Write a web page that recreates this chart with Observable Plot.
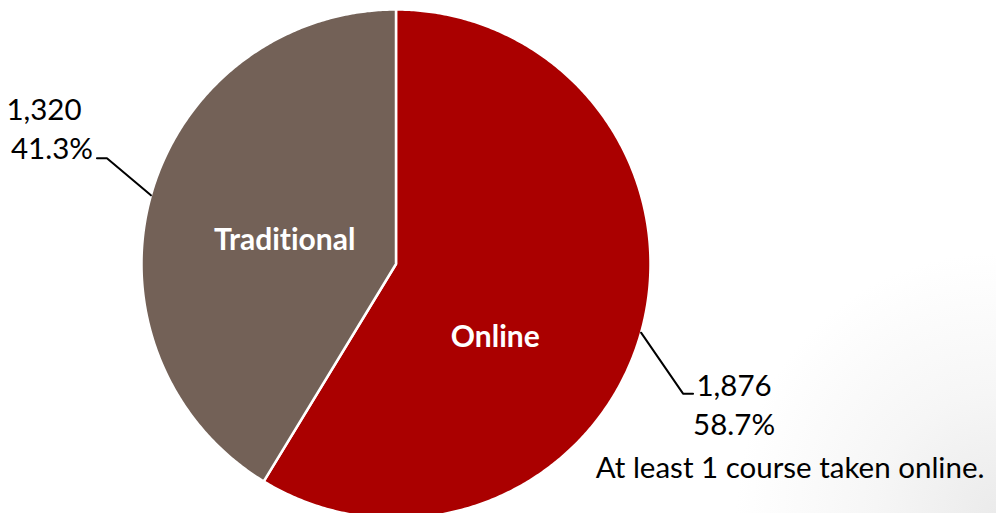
<!DOCTYPE html>
<html>
<head>
<meta charset="utf-8">
<script src="https://cdn.jsdelivr.net/npm/d3@7"></script>
<script src="https://cdn.jsdelivr.net/npm/@observablehq/plot@0.6"></script>
<style>
  html, body { margin: 0; padding: 0; }
  body {
    width: 996px; height: 513px; overflow: hidden;
    background: radial-gradient(circle at 100% 100%, #ebebeb 0px, #f6f6f6 120px, #ffffff 260px);
    font-family: Lato, "Open Sans", sans-serif;
  }
  #chart svg { display: block; }
  #chart text { font-variant-ligatures: none; font-feature-settings: "liga" 0; }
</style>
</head>
<body>
<div id="chart"></div>
<script>
// ---- data ----
const categories = ["Online", "Traditional"];
const counts = [1876, 1320];
const colors = ["#aa0000", "#736157"];
const note = "At least 1 course taken online.";

// ---- layout (pixels) ----
const W = 996, H = 513;
const cx = 395.5, cy = 263.5, R = 254.5;

const total = d3.sum(counts);
const pie = d3.pie().sort(null).startAngle(0).endAngle(2 * Math.PI)(counts);

// polar helper in data units (radius 1 = pie radius); angle clockwise from 12 o'clock
const polar = (a, r) => ({x: r * Math.sin(a), y: r * Math.cos(a)});
const pxToData = (dx, dy) => ({x: dx / R, y: -dy / R});

const slices = pie.map((p, i) => ({
  label: categories[i],
  value: counts[i],
  pct: counts[i] / total,
  a0: p.startAngle, a1: p.endAngle,
  mid: (p.startAngle + p.endAngle) / 2
}));

// polygon points for each slice
const pts = [];
for (const s of slices) {
  pts.push({label: s.label, ...polar(0, 0)});
  const n = Math.max(2, Math.ceil((s.a1 - s.a0) / (Math.PI / 360)));
  for (let k = 0; k <= n; k++) {
    const a = s.a0 + (s.a1 - s.a0) * k / n;
    pts.push({label: s.label, ...polar(a, 1)});
  }
}

// leader lines and label layout: offsets in pixels from the slice's edge point
const leaderLayout = {
  Online:      {elbow: [42, 61],  run: 10,  inner: [-11, 42], lines: [[41, 2], [41, 41]], noteAt: [97, 84]},
  Traditional: {elbow: [-44, -37], run: -10, inner: [-1, 7],   lines: [[-53, -38], [-45, 1]]}
};

const leaders = [];
const outerText = [];
const innerText = [];
const fmt = d3.format(",");
const pfmt = d3.format(".1%");
for (const s of slices) {
  const L = leaderLayout[s.label];
  const e = polar(s.mid, 1);
  const o1 = pxToData(...L.elbow);
  const el = {x: e.x + o1.x, y: e.y + o1.y};
  const en = {x: el.x + L.run / R, y: el.y};
  leaders.push({label: s.label, ...e}, {label: s.label, ...el}, {label: s.label, ...en});
  const c = polar(s.mid, 0.45);
  innerText.push({text: s.label, ...c, dx: L.inner[0], dy: L.inner[1]});
  outerText.push({text: fmt(s.value), ...en, dx: L.lines[0][0], dy: L.lines[0][1]});
  outerText.push({text: pfmt(s.pct), ...en, dx: L.lines[1][0], dy: L.lines[1][1]});
  if (L.noteAt) outerText.push({text: note, ...en, dx: L.noteAt[0], dy: L.noteAt[1]});
}

const textMarks = (arr, opts) => arr.map(t => Plot.text([t], {
  x: "x", y: "y", text: "text", dx: t.dx, dy: t.dy, ...opts
}));

const chart = Plot.plot({
  width: W, height: H,
  margin: 0,
  style: {background: "transparent", overflow: "visible"},
  x: {type: "linear", domain: [-1, 1], range: [cx - R, cx + R], axis: null},
  y: {type: "linear", domain: [-1, 1], range: [cy + R, cy - R], axis: null},
  color: {domain: categories, range: colors},
  marks: [
    Plot.line(pts, {x: "x", y: "y", z: "label", fill: "label", stroke: "white", strokeWidth: 2.5, curve: "linear-closed", strokeLinejoin: "round"}),
    Plot.line(leaders, {x: "x", y: "y", z: "label", stroke: "black", strokeWidth: 2}),
    ...textMarks(innerText, {fill: "white", fontWeight: "bold", fontSize: 30, textAnchor: "middle", lineAnchor: "middle", fontFamily: "Lato, 'Open Sans', sans-serif"}),
    ...textMarks(outerText, {fill: "black", fontSize: 29.5, textAnchor: "middle", lineAnchor: "bottom", fontFamily: "Lato, 'Open Sans', sans-serif"})
  ]
});
document.getElementById("chart").appendChild(chart);
</script>
</body>
</html>
